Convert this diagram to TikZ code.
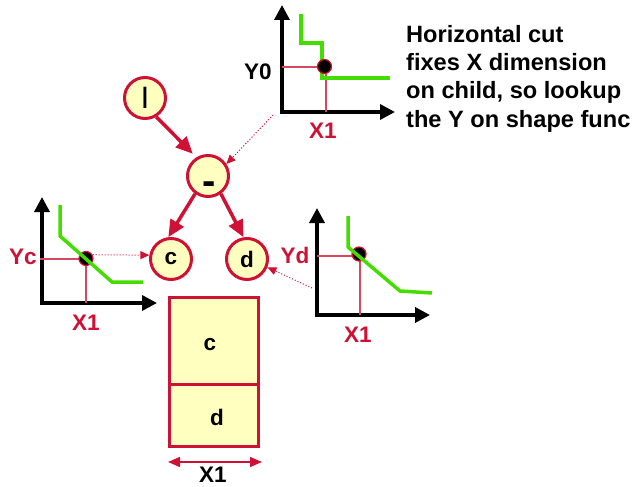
\documentclass[tikz,border=0pt]{standalone}
\usepackage{fontspec}
\setmainfont{Liberation Sans}
\usetikzlibrary{arrows.meta}
\definecolor{cred}{RGB}{206,17,52}
\definecolor{cfill}{RGB}{255,255,192}
\definecolor{cgreen}{RGB}{68,221,0}
\definecolor{cthin}{RGB}{214,72,96}
\begin{document}
\begin{tikzpicture}[x=1pt,y=-1pt,
  lbl/.style={font=\fontsize{22.5}{27}\selectfont\bfseries, inner sep=0pt},
  tnode/.style={circle, draw=cred, fill=cfill, line width=3pt, minimum size=41pt, inner sep=0pt, font=\fontsize{22.5}{27}\selectfont\bfseries},
  boxnode/.style={rectangle, draw=cred, fill=cfill, line width=3pt, minimum width=89pt, inner sep=0pt},
  treearrow/.style={draw=cred, line width=3.5pt, -{Triangle[length=17pt,width=15pt]}},
  axisarrow/.style={draw=black, line width=3.5pt, -{Triangle[length=15pt,width=15pt]}},
  curve/.style={draw=cgreen, line width=3.5pt},
  guide/.style={draw=cthin, line width=1.5pt},
  dotarrow/.style={draw=cred, line width=1pt, dotted, -{Triangle[length=9pt,width=8pt]}},
  dimarrow/.style={draw=cred, line width=1.5pt, {Triangle[length=12pt,width=10pt]}-{Triangle[length=12pt,width=10pt]}},
  pdot/.style={circle, fill=black, draw=cred, line width=1.2pt, minimum size=14pt, inner sep=0pt}
]
\useasboundingbox (0,0) rectangle (638,487);

% ---------- top graph ----------
\draw[axisarrow] (282,112) -- (282,5);
\draw[axisarrow] (280.3,112) -- (395,112);
\draw[guide] (282,67) -- (324.5,67);
\draw[guide] (326,67) -- (326,112);
\draw[curve] (301,14) -- (301,43) -- (322,43) -- (322,78) -- (390,78);
\node[pdot] (dot0) at (324.5,66.5) {};
\node[lbl] (y0) at (258,72) {Y0};
\node[lbl, text=cred] (x1top) at (323,131) {X1};
\coordinate (topfrom) at (273,115);

% ---------- note ----------
\node[anchor=north west, align=left, inner sep=0pt, font=\fontsize{23.6}{28.3}\selectfont\bfseries] (note) at (406,25)
  {Horizontal cut\\fixes X dimension\\on child, so lookup\\the Y on shape func};

% ---------- left graph ----------
\draw[axisarrow] (42,303) -- (42,197);
\draw[axisarrow] (40.3,303) -- (157,303);
\draw[guide] (40,259) -- (86,259);
\draw[guide] (86,259) -- (86,303);
\node[pdot] (dotc) at (86,258.5) {};
\draw[curve] (60,205) -- (60,236) -- (112,282) -- (143,282);
\node[lbl, text=cred] (yc) at (23,257) {Yc};
\node[lbl, text=cred] (x1left) at (86,323) {X1};

% ---------- right graph ----------
\draw[axisarrow] (317,315) -- (317,208);
\draw[axisarrow] (315.3,315) -- (430,315);
\draw[guide] (317,256) -- (359,256);
\draw[guide] (360,256) -- (360,315);
\node[pdot] (dotd) at (359,254) {};
\draw[curve] (348,216) -- (348,247) -- (400,291) -- (432,293);
\node[lbl, text=cred] (yd) at (295,255) {Yd};
\node[lbl, text=cred] (x1right) at (358,335) {X1};
\coordinate (rightfrom) at (312,288);

% ---------- tree ----------
\node[tnode] (bar) at (145,98) {|};
\node[tnode] (minus) at (208,176) {};
\node[inner sep=0pt, font=\fontsize{40}{40}\selectfont\bfseries] (minustxt) at (209.5,187.7) {-};
\node[tnode] (c) at (171,259) {c};
\node[tnode] (d) at (247,259) {d};

\draw[treearrow, shorten >=5pt] (bar.301) -- (minus.122);
\draw[treearrow] (minus.234) -- (c.97);
\draw[treearrow] (minus.306) -- (d.99);

\draw[dotarrow] (topfrom) -- (minus.33);
\draw[dotarrow] (dotc.30) -- (c.170);
\draw[dotarrow] (rightfrom) -- (d.338);

% ---------- floorplan ----------
\node[boxnode, minimum height=86.5pt] (cbox) at (214,340.75) {};
\node[boxnode, minimum height=62.5pt] (dbox) at (214,415.25) {};
\node[lbl] (clabel) at (210,345) {c};
\node[lbl] (dlabel) at (217,417) {d};
\draw[dimarrow] ([yshift=-14pt]dbox.south west) -- ([yshift=-14pt,xshift=2pt]dbox.south east);
\node[lbl] (x1bottom) at (213,475) {X1};
\end{tikzpicture}
\end{document}
